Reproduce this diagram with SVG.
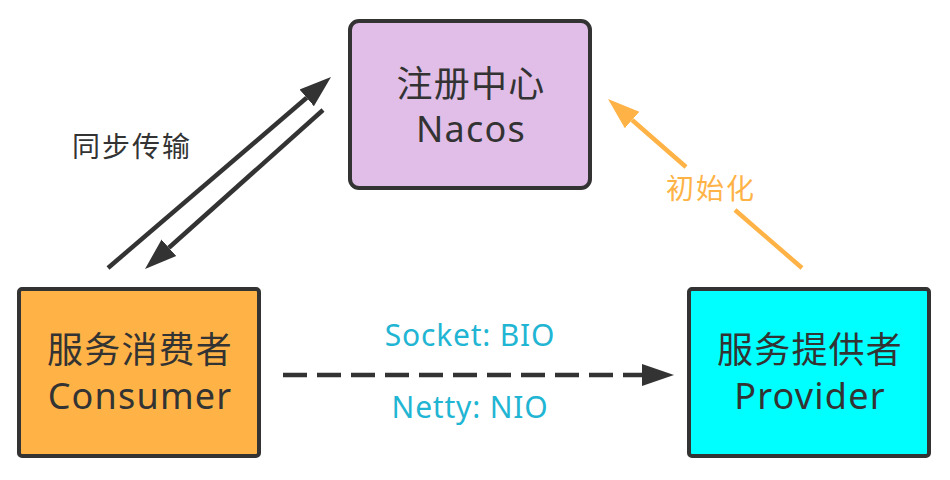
<svg xmlns="http://www.w3.org/2000/svg" width="950" height="480" viewBox="0 0 950 480">
<defs>
<style>
.box{stroke:#333333;stroke-width:4}
.t{font-family:"Noto Sans","Noto Sans CJK SC",sans-serif;font-size:36px;letter-spacing:1.2px;fill:#333333;text-anchor:middle}
.lbl{font-family:"Noto Sans","Noto Sans CJK SC",sans-serif;text-anchor:middle}
.dark{stroke:#333333;stroke-width:4.5;fill:none}
.orange{stroke:#FFB347;stroke-width:4.5;fill:none}
</style>
<marker id="ah" markerUnits="userSpaceOnUse" markerWidth="34" markerHeight="24" refX="0" refY="11" orient="auto" viewBox="0 0 34 22">
<path d="M0,0 L32,11 L0,22 z" fill="#333333"/>
</marker>
<marker id="ao" markerUnits="userSpaceOnUse" markerWidth="34" markerHeight="24" refX="0" refY="11" orient="auto" viewBox="0 0 34 22">
<path d="M0,0 L32,11 L0,22 z" fill="#FFB347"/>
</marker>
</defs>
<rect width="950" height="480" fill="#ffffff"/>
<g id="connectors">
<line class="dark" x1="108" y1="268" x2="306.7" y2="97.8" marker-end="url(#ah)"/>
<line class="dark" x1="323" y1="110" x2="168.9" y2="247.7" marker-end="url(#ah)"/>
<path class="orange" d="M802,268 L735,210 M686,167 L632.1,120" marker-end="url(#ao)"/>
<line class="dark" x1="283" y1="375" x2="642" y2="375" stroke-dasharray="24 10" marker-end="url(#ah)"/>
<text class="lbl" x="132" y="157" font-size="28" letter-spacing="2" fill="#333333">同步传输</text>
<text class="lbl" x="711" y="199" font-size="28" letter-spacing="2" fill="#FFB347">初始化</text>
<text class="lbl" x="470" y="346" font-size="30" letter-spacing="0.8" fill="#1FB5D3">Socket: BIO</text>
<text class="lbl" x="470" y="418" font-size="30" letter-spacing="0.8" fill="#1FB5D3">Netty: NIO</text>
</g>
<g id="nacos">
<rect class="box" x="350" y="21" width="240" height="167" rx="9" fill="#E1BEE7"/>
<text class="t" x="471" y="97">注册中心</text>
<text class="t" x="471" y="142">Nacos</text>
</g>
<g id="consumer">
<rect class="box" x="19" y="289" width="240" height="167" rx="3" fill="#FFB347"/>
<text class="t" x="140" y="363">服务消费者</text>
<text class="t" x="140" y="409">Consumer</text>
</g>
<g id="provider">
<rect class="box" x="689" y="289" width="240" height="167" rx="3" fill="#00FFFF"/>
<text class="t" x="810" y="363">服务提供者</text>
<text class="t" x="810" y="409">Provider</text>
</g>
</svg>
